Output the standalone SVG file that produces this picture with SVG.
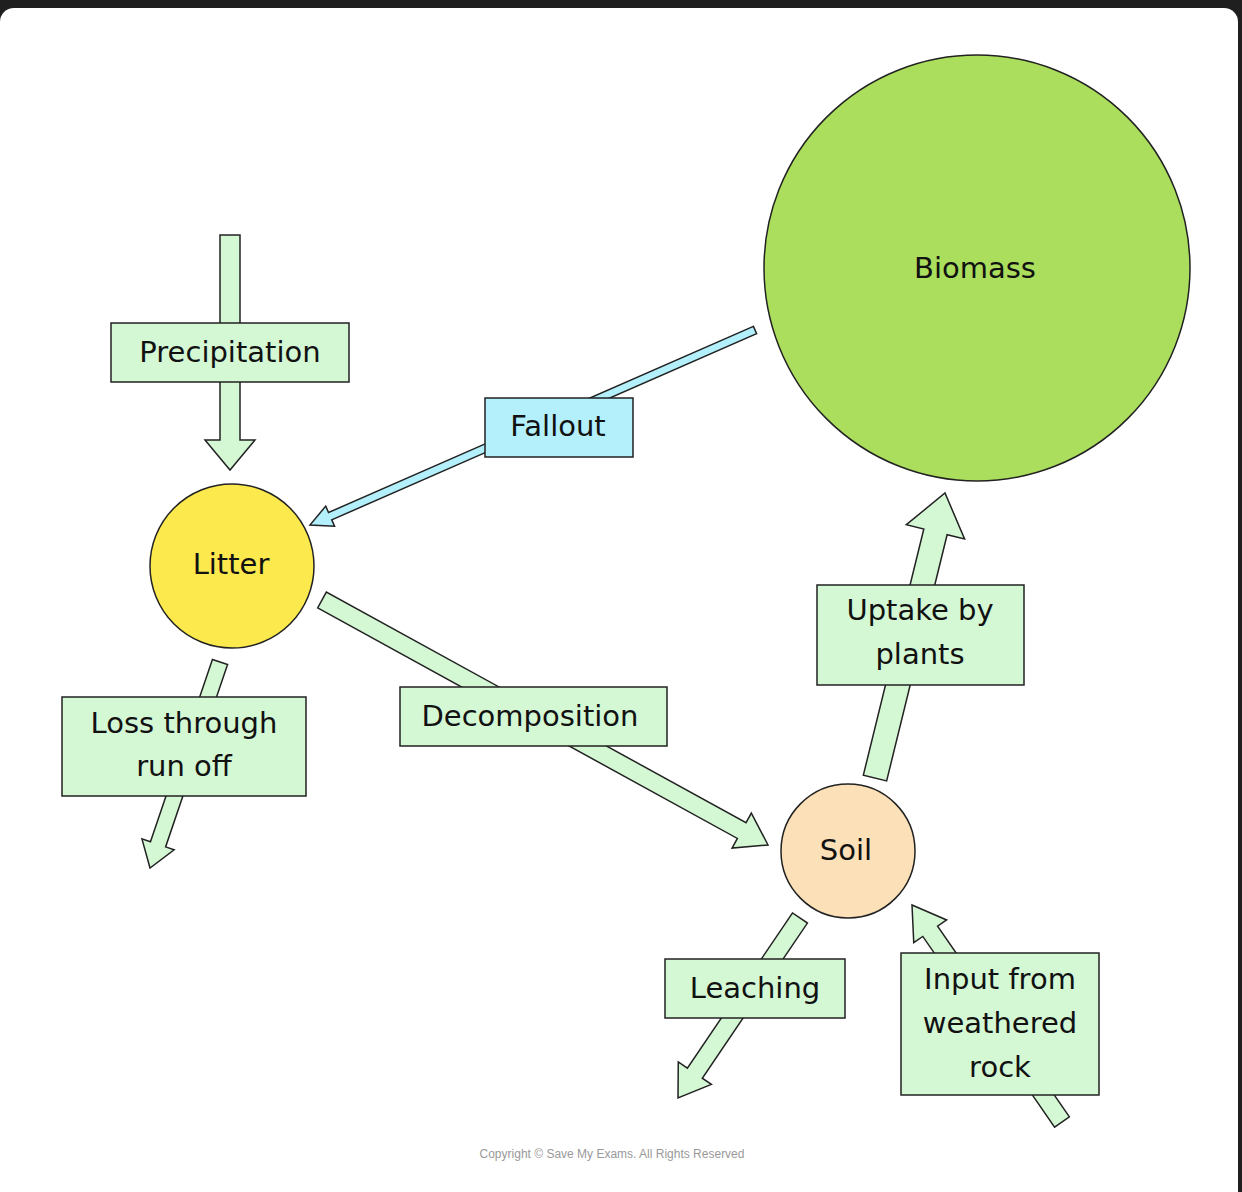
<svg xmlns="http://www.w3.org/2000/svg" width="1242" height="1192" viewBox="0 0 1242 1192">
<style>
.ar{fill:#d4f7d4;stroke:#222;stroke-width:1.5;stroke-linejoin:miter}
.bx{fill:#d4f7d4;stroke:#222;stroke-width:1.5}
.nd{stroke:#222;stroke-width:1.5}
text{font-family:"DejaVu Sans",sans-serif;font-size:29px;fill:#111;text-anchor:middle;dominant-baseline:middle}
</style>
<rect x="0" y="0" width="1242" height="1192" fill="#1f1f1f"/>
<rect x="0" y="8" width="1238" height="1200" rx="14" fill="#fff"/>
<g id="connectors">
<polygon class="ar" points="220,235 240,235 240,440 255,440 230,470 205,440 220,440"/>
<polygon class="ar" style="fill:#b3f0fb" points="753.39,326.34 328.54,512.51 325.74,506.1 310,525 334.56,526.24 331.76,519.83 756.61,333.66"/>
<polygon class="ar" points="317.67,607.89 737.38,838.45 732.08,848.09 768,845 751.34,813.03 746.04,822.67 326.33,592.11"/>
<polygon class="ar" points="886.65,780.86 947.11,534.7 964.59,538.99 945,493 906.33,524.69 923.81,528.98 863.35,775.14"/>
<polygon class="ar" points="212.43,659.43 150.47,841.76 141.95,838.86 150,868 174.13,849.8 165.61,846.9 227.57,664.57"/>
<polygon class="ar" points="792.55,912.95 687.39,1068.11 678.28,1061.94 678,1098 711.4,1084.38 702.29,1078.21 807.45,923.05"/>
<polygon class="ar" points="1069.4,1116.88 937.6,926.2 946.65,919.95 912,905 913.75,942.69 922.8,936.44 1054.6,1127.12"/>
</g>
<g id="biomass"><circle class="nd" cx="977" cy="268" r="213" fill="#aade5c"/><text x="975" y="270">Biomass</text></g>
<g id="litter"><circle class="nd" cx="232" cy="566" r="82" fill="#fbe94d"/><text x="231" y="566">Litter</text></g>
<g id="soil"><circle class="nd" cx="848" cy="851" r="67" fill="#fbe0b8"/><text x="846" y="852">Soil</text></g>
<g id="precipitation"><rect class="bx" x="111" y="323" width="238" height="59"/><text x="230" y="354">Precipitation</text></g>
<g id="fallout"><rect class="bx" x="485" y="398" width="148" height="59" fill="#b3f0fb" style="fill:#b3f0fb"/><text x="558" y="428">Fallout</text></g>
<g id="loss"><rect class="bx" x="62" y="697" width="244" height="99"/><text x="184" y="725">Loss through</text><text x="184" y="768">run off</text></g>
<g id="decomposition"><rect class="bx" x="400" y="687" width="267" height="59"/><text x="530" y="718">Decomposition</text></g>
<g id="uptake"><rect class="bx" x="817" y="585" width="207" height="100"/><text x="920" y="612">Uptake by</text><text x="920" y="656">plants</text></g>
<g id="leaching"><rect class="bx" x="665" y="959" width="180" height="59"/><text x="755" y="990">Leaching</text></g>
<g id="input"><rect class="bx" x="901" y="953" width="198" height="142"/><text x="1000" y="981">Input from</text><text x="1000" y="1025">weathered</text><text x="1000" y="1069">rock</text></g>
<text x="612" y="1155" style="font-family:'Liberation Sans',sans-serif;font-size:12px;fill:#999">Copyright © Save My Exams. All Rights Reserved</text>
</svg>
